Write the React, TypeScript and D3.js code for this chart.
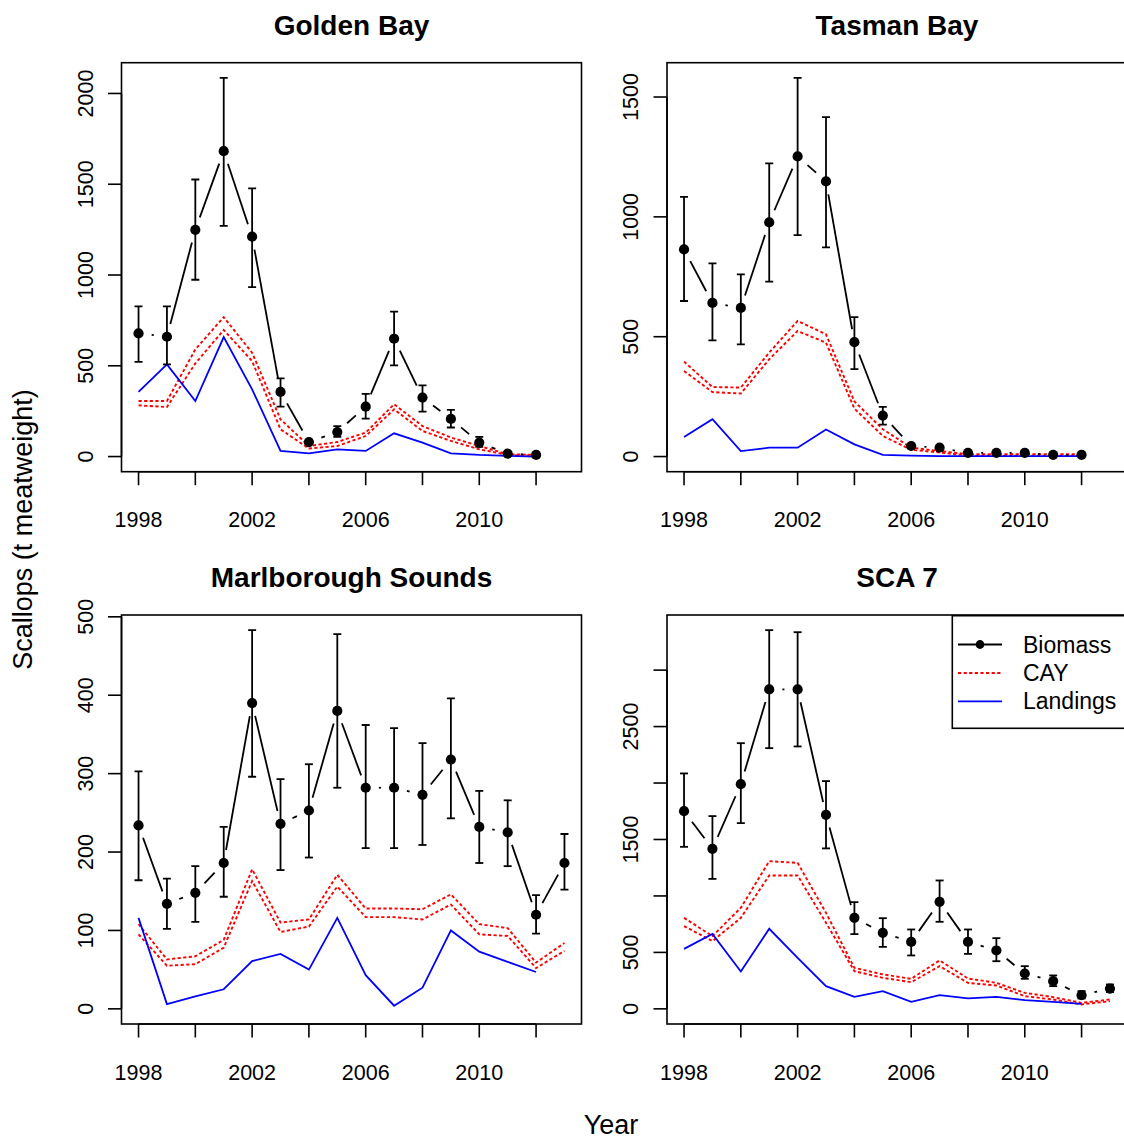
import React from 'react';
import * as d3 from 'd3';

// ---------- data ----------
const years15 = [1998, 1999, 2000, 2001, 2002, 2003, 2004, 2005, 2006, 2007, 2008, 2009, 2010, 2011, 2012];
const years16 = [1998, 1999, 2000, 2001, 2002, 2003, 2004, 2005, 2006, 2007, 2008, 2009, 2010, 2011, 2012, 2013];
const xTickYears = [1998, 2000, 2002, 2004, 2006, 2008, 2010, 2012];

const gbBiomass = [678, 660, 1249, 1682, 1211, 356, 80, 135, 275, 649, 325, 207, 77, 16, 9];
const gbLo = [521, 508, 974, 1271, 933, 275, 70, 108, 209, 502, 248, 160, 53, 10, 5];
const gbHi = [827, 827, 1526, 2086, 1477, 431, 92, 168, 345, 798, 392, 257, 108, 24, 13];
const gbCayHi = [306, 306, 590, 768, 572, 205, 58, 80, 132, 288, 168, 105, 58, 13, 9];
const gbCayLo = [282, 273, 513, 697, 526, 150, 44, 58, 113, 260, 141, 86, 40, 9, 5];
const gbLandings = [356, 508, 306, 658, 370, 31, 18, 40, 31, 128, 77, 18, 9, 4, 0];

const tbBiomass = [864, 641, 620, 977, 1252, 1148, 477, 171, 44, 37, 15, 15, 15, 7, 7];
const tbLo = [649, 485, 468, 730, 924, 873, 365, 133, 36, 30, 10, 10, 10, 3, 3];
const tbHi = [1083, 806, 760, 1223, 1580, 1416, 582, 207, 52, 44, 20, 20, 20, 11, 11];
const tbCayHi = [396, 290, 288, 434, 566, 510, 230, 114, 37, 23, 10, 10, 10, 10, 10];
const tbCayLo = [357, 269, 263, 406, 524, 475, 200, 86, 28, 17, 4, 4, 4, 4, 4];
const tbLandings = [82, 156, 23, 37, 37, 113, 51, 7, 4, 2, 2, 2, 2, 2, 2];

const msBiomass = [234, 134, 148, 186, 390, 236, 253, 380, 282, 282, 273, 318, 232, 225, 120, 186];
const msLo = [164, 102, 111, 143, 296, 177, 193, 282, 205, 205, 209, 243, 186, 182, 96, 152];
const msHi = [303, 166, 182, 232, 483, 293, 312, 478, 362, 358, 339, 396, 278, 266, 145, 223];
const msCayHi = [108, 63, 67, 88, 178, 110, 114, 171, 128, 128, 127, 146, 108, 103, 59, 84];
const msCayLo = [95, 55, 57, 78, 163, 98, 105, 156, 117, 117, 114, 133, 95, 93, 52, 74];
const msLandings = [116, 6, 16, 25, 61, 70, 50, 116, 43, 4, 27, 100, 73, 60, 47];

const scBiomass = [1751, 1417, 1990, 2829, 2829, 1718, 806, 673, 593, 948, 593, 517, 313, 245, 121, 180];
const scLo = [1435, 1151, 1645, 2309, 2324, 1421, 662, 549, 473, 771, 487, 422, 266, 201, 92, 148];
const scHi = [2085, 1707, 2353, 3354, 3336, 2017, 945, 803, 703, 1137, 703, 626, 378, 296, 157, 216];
const scCayHi = [806, 644, 895, 1308, 1293, 850, 363, 305, 266, 429, 269, 230, 142, 104, 53, 83];
const scCayLo = [733, 600, 806, 1181, 1181, 762, 334, 275, 236, 378, 230, 207, 112, 83, 39, 68];
const scLandings = [531, 664, 331, 709, 452, 201, 106, 157, 62, 121, 92, 106, 77, 62, 44];

const panelTitles = ['Golden Bay', 'Tasman Bay', 'Marlborough Sounds', 'SCA 7'];
const yTickSteps = [500, 500, 100, 500];
const legendLabels = ['Biomass', 'CAY', 'Landings'];

type PanelData = {
  title: string;
  bYears: number[]; biomass: number[]; lo: number[]; hi: number[];
  cYears: number[]; cayHi: number[]; cayLo: number[];
  lYears: number[]; landings: number[];
  step: number;
};

const panels: PanelData[] = [
  { title: panelTitles[0], bYears: years15, biomass: gbBiomass, lo: gbLo, hi: gbHi, cYears: years15, cayHi: gbCayHi, cayLo: gbCayLo, lYears: years15, landings: gbLandings, step: yTickSteps[0] },
  { title: panelTitles[1], bYears: years15, biomass: tbBiomass, lo: tbLo, hi: tbHi, cYears: years15, cayHi: tbCayHi, cayLo: tbCayLo, lYears: years15, landings: tbLandings, step: yTickSteps[1] },
  { title: panelTitles[2], bYears: years16, biomass: msBiomass, lo: msLo, hi: msHi, cYears: years16, cayHi: msCayHi, cayLo: msCayLo, lYears: years15, landings: msLandings, step: yTickSteps[2] },
  { title: panelTitles[3], bYears: years16, biomass: scBiomass, lo: scLo, hi: scHi, cYears: years16, cayHi: scCayHi, cayLo: scCayLo, lYears: years15, landings: scLandings, step: yTickSteps[3] },
];

// ---------- layout ----------
const FONT = 'Liberation Sans, Arial, Helvetica, sans-serif';
const PW = 460;
const PH = 409;
const lefts = [121.5, 667];
const tops = [62.7, 615];
const TICK = 13.5;
const TICK_FS = 21.5;
const GAP = 13.2;

function textW(s: string, fs: number) {
  return s.length * 0.556 * fs;
}

// R-like label overlap suppression
function visibleLabels(pos: number[], labels: string[], fs: number) {
  const out: boolean[] = [];
  let lastP: number | null = null;
  let lastW = 0;
  const mW = 0.833 * fs;
  pos.forEach((p, i) => {
    const w = textW(labels[i], fs);
    if (lastP === null || Math.abs(p - lastP) >= lastW / 2 + w / 2 + mW) {
      out.push(true);
      lastP = p;
      lastW = w;
    } else out.push(false);
  });
  return out;
}

function Panel({ d, left, top, legend }: { d: PanelData; left: number; top: number; legend?: boolean }) {
  const xlim = [1998, 2013];
  const xr = xlim[1] - xlim[0];
  const x = d3.scaleLinear().domain([xlim[0] - 0.04 * xr, xlim[1] + 0.04 * xr]).range([left, left + PW]);
  const M = d3.max(d.hi) as number;
  const y = d3.scaleLinear().domain([-0.04 * M, 1.04 * M]).range([top + PH, top]);
  const bottom = top + PH;

  const yTicks = d3.range(0, 1.04 * M + 1e-9, d.step);
  const yLabels = yTicks.map((t) => String(t));
  const yVis = visibleLabels(yTicks.map((t) => -y(t)), yLabels, TICK_FS);
  const xLabels = xTickYears.map((t) => String(t));
  const xVis = visibleLabels(xTickYears.map((t) => x(t)), xLabels, TICK_FS);

  const line = d3.line<[number, number]>().x((p) => x(p[0])).y((p) => y(p[1]));
  const cayHiPath = line(d.cYears.map((yr, i) => [yr, d.cayHi[i]] as [number, number])) || '';
  const cayLoPath = line(d.cYears.map((yr, i) => [yr, d.cayLo[i]] as [number, number])) || '';
  const landPath = line(d.lYears.map((yr, i) => [yr, d.landings[i]] as [number, number])) || '';

  const segs: { x1: number; y1: number; x2: number; y2: number }[] = [];
  for (let i = 0; i < d.bYears.length - 1; i++) {
    const x0 = x(d.bYears[i]), y0 = y(d.biomass[i]);
    const x1 = x(d.bYears[i + 1]), y1 = y(d.biomass[i + 1]);
    const dist = Math.hypot(x1 - x0, y1 - y0);
    if (dist > 2 * GAP) {
      const ux = (x1 - x0) / dist, uy = (y1 - y0) / dist;
      segs.push({ x1: x0 + ux * GAP, y1: y0 + uy * GAP, x2: x1 - ux * GAP, y2: y1 - uy * GAP });
    }
  }

  const clipId = `clip-${left}-${top}`.replace(/\./g, '_');

  return (
    <g>
      <defs>
        <clipPath id={clipId}>
          <rect x={left} y={top} width={PW} height={PH} />
        </clipPath>
      </defs>
      <text x={left + PW / 2} y={top - 27.7} textAnchor="middle" fontFamily={FONT} fontWeight="bold" fontSize={28}>
        {d.title}
      </text>
      <g clipPath={`url(#${clipId})`}>
        <path d={cayHiPath} fill="none" stroke="#ff0000" strokeWidth={1.9} strokeDasharray="3.2,2.4" />
        <path d={cayLoPath} fill="none" stroke="#ff0000" strokeWidth={1.9} strokeDasharray="3.2,2.4" />
        <path d={landPath} fill="none" stroke="#0000ff" strokeWidth={1.8} />
        {segs.map((s, i) => (
          <line key={'s' + i} x1={s.x1} y1={s.y1} x2={s.x2} y2={s.y2} stroke="#000" strokeWidth={1.8} />
        ))}
        {d.bYears.map((yr, i) => (
          <g key={'e' + i} stroke="#000" strokeWidth={1.8}>
            <line x1={x(yr)} x2={x(yr)} y1={y(d.lo[i])} y2={y(d.hi[i])} />
            <line x1={x(yr) - 4} x2={x(yr) + 4} y1={y(d.lo[i])} y2={y(d.lo[i])} />
            <line x1={x(yr) - 4} x2={x(yr) + 4} y1={y(d.hi[i])} y2={y(d.hi[i])} />
          </g>
        ))}
        {d.bYears.map((yr, i) => (
          <circle key={'p' + i} cx={x(yr)} cy={y(d.biomass[i])} r={5.1} fill="#000" />
        ))}
      </g>
      <rect x={left} y={top} width={PW} height={PH} fill="none" stroke="#000" strokeWidth={1.6} />
      {/* x axis */}
      <line x1={x(xTickYears[0])} x2={x(xTickYears[xTickYears.length - 1])} y1={bottom} y2={bottom} stroke="#000" strokeWidth={1.6} />
      {xTickYears.map((t, i) => (
        <g key={'xt' + t}>
          <line x1={x(t)} x2={x(t)} y1={bottom} y2={bottom + TICK} stroke="#000" strokeWidth={1.6} />
          {xVis[i] && (
            <text x={x(t)} y={bottom + 55.5} textAnchor="middle" fontFamily={FONT} fontSize={TICK_FS}>
              {xLabels[i]}
            </text>
          )}
        </g>
      ))}
      {/* y axis */}
      <line x1={left} x2={left} y1={y(yTicks[0])} y2={y(yTicks[yTicks.length - 1])} stroke="#000" strokeWidth={1.6} />
      {yTicks.map((t, i) => (
        <g key={'yt' + t}>
          <line x1={left - TICK} x2={left} y1={y(t)} y2={y(t)} stroke="#000" strokeWidth={1.6} />
          {yVis[i] && (
            <text
              transform={`translate(${left - 29},${y(t)}) rotate(-90)`}
              textAnchor="middle"
              fontFamily={FONT}
              fontSize={TICK_FS}
            >
              {yLabels[i]}
            </text>
          )}
        </g>
      ))}
      {legend && (
        <g>
          <rect x={952.3} y={top + 0.7} width={200} height={112.6} fill="#fff" stroke="#000" strokeWidth={1.6} />
          <line x1={958} x2={1002} y1={top + 29.5} y2={top + 29.5} stroke="#000" strokeWidth={1.8} />
          <circle cx={980} cy={top + 29.5} r={4.4} fill="#000" />
          <line x1={958} x2={1002} y1={top + 58} y2={top + 58} stroke="#ff0000" strokeWidth={1.9} strokeDasharray="3.2,2.4" />
          <line x1={958} x2={1002} y1={top + 86.3} y2={top + 86.3} stroke="#0000ff" strokeWidth={1.8} />
          {legendLabels.map((lab, i) => (
            <text key={lab} x={1023} y={top + 29.5 + i * 28.4} dy="0.35em" fontFamily={FONT} fontSize={23}>
              {lab}
            </text>
          ))}
        </g>
      )}
    </g>
  );
}

export default function App() {
  return (
    <div style={{ position: 'absolute', left: 0, top: 0 }}>
      <svg width={1124} height={1140} viewBox="0 0 1124 1140" style={{ display: 'block', background: '#fff' }}>
        <rect x={0} y={0} width={1124} height={1140} fill="#fff" />
        {panels.map((p, i) => (
          <Panel key={p.title} d={p} left={lefts[i % 2]} top={tops[Math.floor(i / 2)]} legend={i === 3} />
        ))}
        <text transform="translate(32,529.5) rotate(-90)" textAnchor="middle" fontFamily={FONT} fontSize={27}>
          Scallops (t meatweight)
        </text>
        <text x={611} y={1134} textAnchor="middle" fontFamily={FONT} fontSize={27}>
          Year
        </text>
      </svg>
    </div>
  );
}
